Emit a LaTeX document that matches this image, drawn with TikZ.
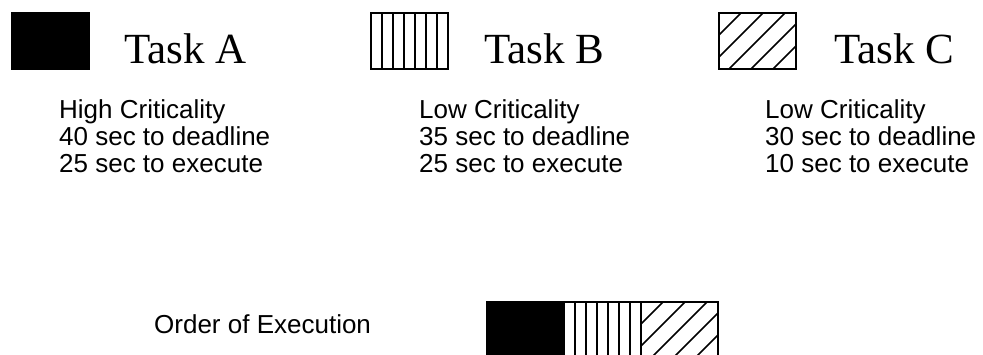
\documentclass[tikz,border=0pt]{standalone}
\usepackage{fontspec}
\usetikzlibrary{calc}
\setmainfont{Liberation Serif}
\newfontfamily\bodyfont{Liberation Sans}
\begin{document}
\begin{tikzpicture}[x=1pt,y=-1pt,
  tasktitle/.style={anchor=base west,inner sep=0pt,font=\fontsize{43}{48}\selectfont},
  % base anchor of a multi-line node sits on its last line
  taskinfo/.style={anchor=base west,inner sep=0pt,align=left,
    font=\bodyfont\fontsize{26}{27}\selectfont},
  slot/.style={draw=black,line width=1.5pt,minimum width=77pt,minimum height=56pt,
    inner sep=0pt,outer sep=0pt,anchor=north west},
  solid task/.style={slot,fill=black},
  striped task/.style={slot,path picture={
      \foreach \k in {1,...,6}
        \draw[line width=1.5pt]
          ($(path picture bounding box.north west)+(\k*11pt,0pt)$) --
          ($(path picture bounding box.south west)+(\k*11pt,0pt)$);}},
  hatched task/.style={slot,path picture={
      \foreach \d in {22,44,66,88,110}
        \draw[line width=1.5pt]
          ($(path picture bounding box.north west)+(\d pt,0pt)$) --
          ($(path picture bounding box.north west)+(0pt,-\d pt)$);}}
]
\useasboundingbox (0,0) rectangle (983,354);
\clip (0,0) rectangle (983,354);

% legend: one swatch and title per task
\node[solid task]   (swA) at (12,13)  {};
\node[striped task] (swB) at (371,13) {};
\node[hatched task] (swC) at (719,13) {};

\node[tasktitle] (titleA) at (124,63) {Task A};
\node[tasktitle] (titleB) at (484,63) {Task B};
\node[tasktitle] (titleC) at (834,63) {Task C};

% task parameters
\node[taskinfo] (infoA) at (59,172)  {High Criticality\\40 sec to deadline\\25 sec to execute};
\node[taskinfo] (infoB) at (419,172) {Low Criticality\\35 sec to deadline\\25 sec to execute};
\node[taskinfo] (infoC) at (765,172) {Low Criticality\\30 sec to deadline\\10 sec to execute};

% resulting schedule
\node[taskinfo] (orderlbl) at (154,333) {Order of Execution};
\node[solid task]   (runA) at (487,302) {};
\node[striped task] (runB) at (runA.north east) {};
\node[hatched task] (runC) at (runB.north east) {};
\end{tikzpicture}
\end{document}
